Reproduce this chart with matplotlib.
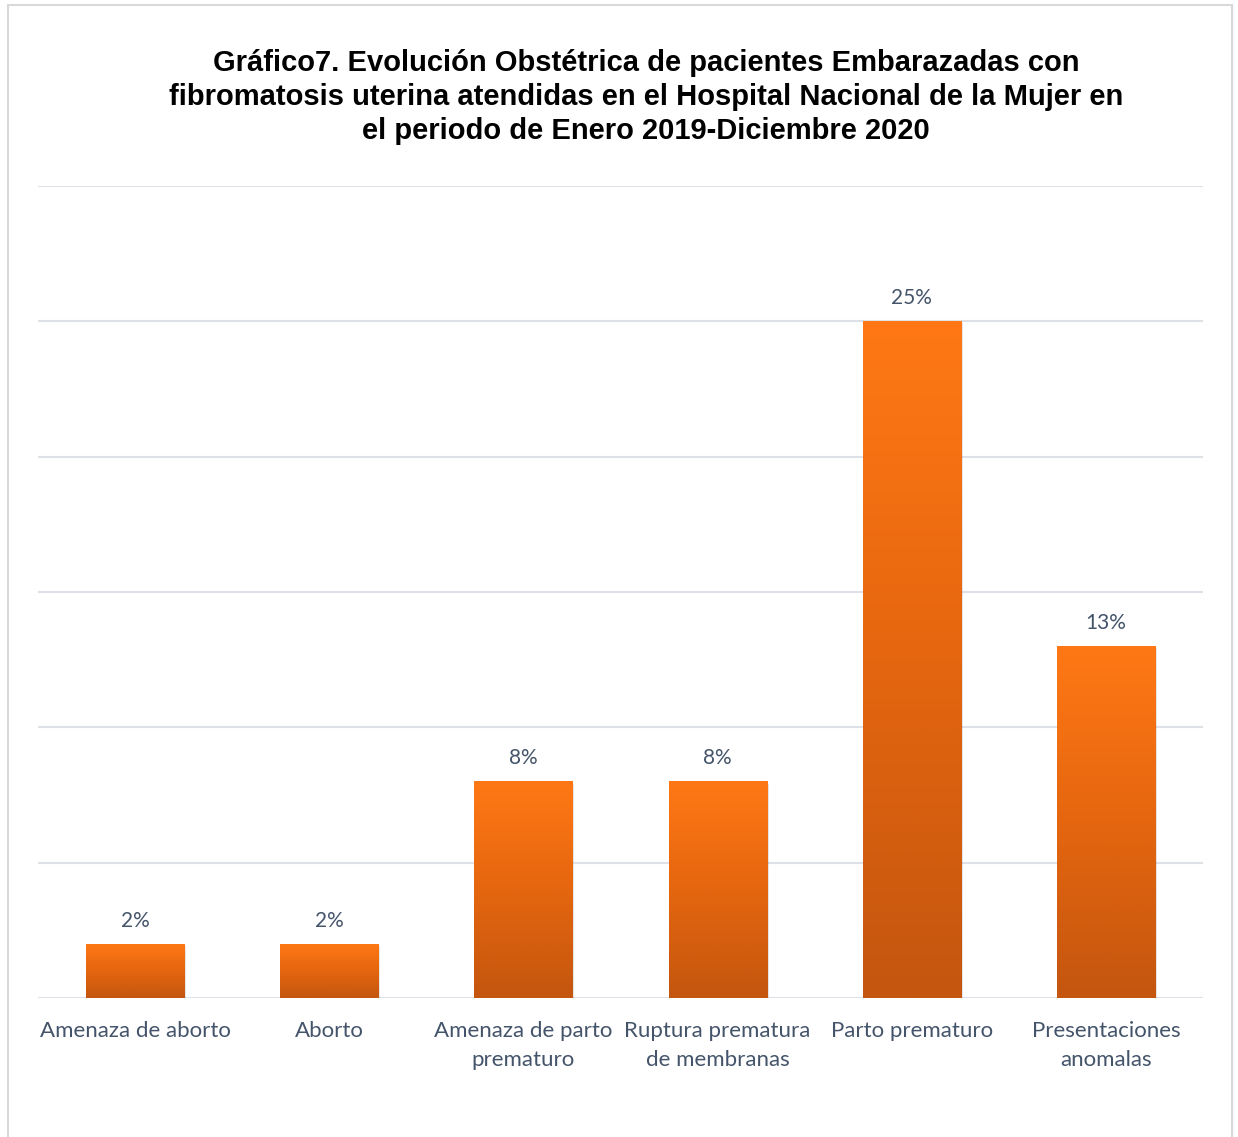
import matplotlib
matplotlib.use("Agg")
import matplotlib.pyplot as plt
import numpy as np
from matplotlib.patches import Rectangle
from matplotlib.colors import LinearSegmentedColormap

categories = ["Amenaza de aborto", "Aborto", "Amenaza de parto\nprematuro",
              "Ruptura prematura\nde membranas", "Parto prematuro",
              "Presentaciones\nanomalas"]
values = [2, 2, 8, 8, 25, 13]
value_labels = ["2%", "2%", "8%", "8%", "25%", "13%"]
title = ("Gráfico7. Evolución Obstétrica de pacientes Embarazadas con\n"
         "fibromatosis uterina atendidas en el Hospital Nacional de la Mujer en\n"
         "el periodo de Enero 2019-Diciembre 2020")

W, H = 1238, 1137
fig = plt.figure(figsize=(W / 100, H / 100), dpi=100)
fig.patch.set_facecolor("white")

# outer frame
fig.patches.append(Rectangle((8 / W, -0.01), (1232 - 8) / W, 1 - 5 / H + 0.01,
                             transform=fig.transFigure, fill=False,
                             edgecolor="#D9D9D9", linewidth=1.5))

ax = fig.add_axes([38 / W, 1 - 998 / H, (1203 - 38) / W, (998 - 186) / H])
ax.set_xlim(-0.5, len(categories) - 0.5)
ax.set_ylim(0, 30)
for s in ax.spines.values():
    s.set_visible(False)
ax.set_yticks([])
ax.set_xticks([])
for g in range(0, 31, 5):
    ax.axhline(g, color="#DEE2E8", linewidth=1.5, zorder=0)

cmap = LinearSegmentedColormap.from_list("og", ["#C4560F", "#E5660F", "#FF7815"])
grad = np.linspace(0, 1, 256).reshape(-1, 1)
bw = 0.505
txt_color = "#44546A"
for i, (v, lab) in enumerate(zip(values, value_labels)):
    # shadow
    sh = Rectangle((i - bw / 2 + 0.01, -0.08), bw, v, facecolor="#000000",
                   alpha=0.10, edgecolor="none", zorder=1)
    ax.add_patch(sh)
    rect = Rectangle((i - bw / 2, 0), bw, v, facecolor="none", edgecolor="none", zorder=2)
    ax.add_patch(rect)
    im = ax.imshow(grad, extent=(i - bw / 2, i + bw / 2, 0, v), origin="lower",
                   cmap=cmap, aspect="auto", zorder=2)
    im.set_clip_path(rect)
    ax.text(i, v + 0.48, lab, ha="center", va="bottom", fontsize=15,
            family="Lato", color=txt_color)

for i, c in enumerate(categories):
    ax.text(i, -0.85, c, ha="center", va="top", fontsize=16, family="Lato",
            color=txt_color, linespacing=1.58)

ax.set_xlim(-0.5, len(categories) - 0.5)
ax.set_ylim(0, 30)

fig.text(646 / W, 1 - 97 / H, title, ha="center", va="center", fontsize=21,
         fontweight="bold", family="Liberation Sans", color="black", linespacing=1.28)

fig.savefig("out.png", dpi=100, facecolor="white")
